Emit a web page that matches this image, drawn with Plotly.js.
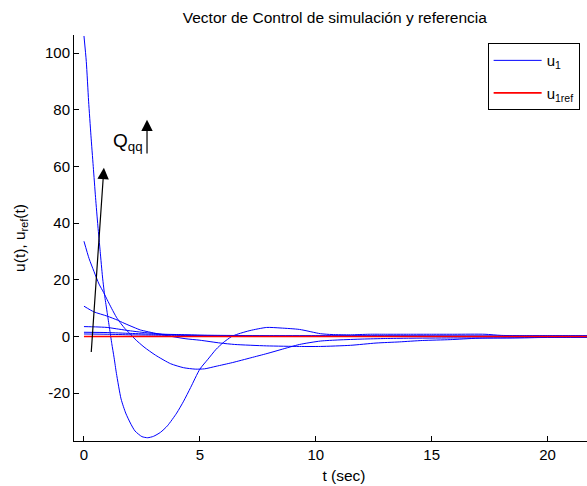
<!DOCTYPE html>
<html>
<head>
<meta charset="utf-8">
<script src="https://cdn.plot.ly/plotly-3.0.1.min.js"></script>
<style>
html, body { margin: 0; padding: 0; overflow: hidden; background: #fff; }
#chart { width: 624px; height: 486px; }
</style>
</head>
<body>
<div id="chart"></div>
<script>
// ---- data ----
var tA = [0, 0.1, 0.2, 0.3, 0.4, 0.5, 0.6, 0.7, 0.8, 0.9, 1.0, 1.1, 1.2, 1.3, 1.4, 1.6, 1.8, 2.0, 2.2, 2.5, 2.75, 3.0, 3.3, 3.6, 4.0, 4.3, 4.6, 5.0, 5.35, 5.7, 6.0, 6.37, 6.65, 7.16, 7.88, 8.5, 9.3, 10.2, 10.7, 11.5, 12.3, 13, 14, 15, 16, 17.3, 18, 19, 20, 21, 22, 23];
var uA = [106, 97, 83, 71, 60, 49, 39, 30, 21, 14, 8.5, 3, -2.5, -7.5, -13, -22, -27, -30.5, -33.3, -35.3, -35.7, -35.2, -33.8, -31.5, -27, -22.8, -18, -11.5, -8, -4.5, -2.2, 0, 0.9, 2.1, 3.2, 3.0, 2.5, 1.0, 0.7, 0.6, 0.8, 0.8, 0.8, 0.8, 0.8, 0.8, 0.4, 0.3, 0.3, 0.3, 0.3, 0.3];

var tB = [0, 0.22, 0.43, 0.65, 0.85, 1.0, 1.2, 1.4, 1.6, 1.8, 2.0, 2.2, 2.59, 3.09, 3.74, 4.3, 4.8, 5.2, 5.7, 6.4, 7.2, 7.9, 8.5, 9.3, 10.2, 11, 12, 13, 14, 15.8, 17.2, 18.5, 20, 23];
var uB = [33.6, 27.5, 23, 18.5, 15.5, 13, 9.8, 6.8, 4.5, 2.5, 0.9, -0.9, -3.7, -6.6, -9.6, -11, -11.5, -11.4, -10.5, -9.2, -7.5, -6, -4.6, -2.8, -1.6, -1.2, -0.9, -0.7, -0.6, -0.5, -0.5, -0.5, -0.3, -0.3];

var tC = [0, 0.43, 1.0, 1.44, 1.73, 2.16, 2.44, 3.16, 3.8, 4.4, 5.0, 5.88, 6.5, 7.88, 9.3, 10.2, 11.5, 12.6, 13.6, 14.6, 15.8, 17, 19, 21, 23];
var uC = [10.7, 8.7, 7.2, 5.8, 4.7, 3.2, 2.3, 1.0, 0, -0.8, -1.3, -2.3, -2.8, -3.3, -3.5, -3.5, -3.1, -2.3, -1.9, -1.4, -1.1, -0.6, -0.4, -0.3, -0.3];

var tD = [0, 0.5, 1.0, 1.5, 2.0, 2.5, 3.0, 3.5, 4.0, 5, 6, 8, 10, 12, 17, 23];
var uD = [3.5, 3.4, 3.2, 2.6, 2.0, 1.5, 1.1, 0.8, 0.7, 0.5, 0.4, 0.3, 0.3, 0.3, 0.2, 0.2];

var tE = [0, 1, 2, 3, 4, 5, 7, 10, 23];
var uE = [1.5, 1.4, 1.1, 0.8, 0.6, 0.4, 0.2, 0.1, 0.1];

var tF = [0, 1, 2, 3, 4, 6, 10, 23];
var uF = [0.9, 0.8, 0.6, 0.5, 0.4, 0.2, 0.1, 0];

var tRef = [0, 23];
var uRef = [0, 0];

// black arrows
var arrow1T = [0.31, 0.86];
var arrow1U = [-6, 59.5];
var arrow2T = [2.72, 2.72];
var arrow2U = [64, 76.5];
var qLabelT = 1.17;
var qLabelU = 68.5;

var xTickVals = [0, 5, 10, 15, 20];
var xTickText = ['0', '5', '10', '15', '20'];
var yTickVals = [-20, 0, 20, 40, 60, 80, 100];
var yTickText = ['-20', '0', '20', '40', '60', '80', '100'];

var seriesNames = ['u<sub>1</sub>', 'u<sub>1ref</sub>'];
var titleText = 'Vector de Control de simulación y referencia';
var xTitle = 't (sec)';
var yTitle = 'u(t), u<sub>ref</sub>(t)';

// ---- build ----
var FONT = 'Arial, "Liberation Sans", sans-serif';
var blue = '#0000ff';
var blueCurves = [[tA, uA], [tB, uB], [tC, uC], [tD, uD], [tE, uE], [tF, uF]];
var traces = [];
blueCurves.forEach(function (c, i) {
  traces.push({
    x: c[0], y: c[1], type: 'scatter', mode: 'lines',
    name: seriesNames[0], legendgroup: 'u1', showlegend: i === 0,
    line: { color: blue, width: 1, shape: 'spline', smoothing: 0.6 },
    hoverinfo: 'skip'
  });
});
traces.push({
  x: tRef, y: uRef, type: 'scatter', mode: 'lines', name: seriesNames[1],
  line: { color: '#ff0000', width: 1.6 }, hoverinfo: 'skip'
});

var layout = {
  width: 624, height: 486,
  margin: { l: 74, r: 10, t: 35, b: 45.3, pad: 0 },
  paper_bgcolor: '#fff', plot_bgcolor: '#fff',
  font: { family: FONT, size: 15, color: '#000' },
  showlegend: true,
  title: {
    text: titleText, font: { family: FONT, size: 15.5, color: '#000' },
    xref: 'paper', x: 0.483, xanchor: 'center',
    yref: 'container', y: 0.964, yanchor: 'middle'
  },
  xaxis: {
    range: [-0.43, 22.866], tickvals: xTickVals, ticktext: xTickText,
    ticks: 'inside', ticklen: 5, tickwidth: 1, tickcolor: '#000',
    showline: true, linecolor: '#000', linewidth: 1, mirror: false,
    showgrid: false, zeroline: false,
    tickfont: { family: FONT, size: 15, color: '#000' },
    title: { text: xTitle, font: { family: FONT, size: 15.5, color: '#000' }, standoff: 8 }
  },
  yaxis: {
    range: [-36.85, 106.35], tickvals: yTickVals, ticktext: yTickText,
    ticks: 'inside', ticklen: 5, tickwidth: 1, tickcolor: '#000',
    showline: true, linecolor: '#000', linewidth: 1, mirror: false,
    showgrid: false, zeroline: false,
    tickfont: { family: FONT, size: 15, color: '#000' },
    title: { text: yTitle, font: { family: FONT, size: 15.5, color: '#000' }, standoff: 15 }
  },
  legend: {
    x: 0.766, y: 0.98, xanchor: 'left', yanchor: 'top',
    bgcolor: '#fff', bordercolor: '#000', borderwidth: 1,
    font: { family: FONT, size: 15, color: '#000' },
    itemwidth: 48
  },
  annotations: [
    {
      x: arrow1T[1], y: arrow1U[1], ax: arrow1T[0], ay: arrow1U[0],
      xref: 'x', yref: 'y', axref: 'x', ayref: 'y',
      showarrow: true, arrowhead: 2, arrowsize: 1.9, arrowwidth: 1.2, arrowcolor: '#000',
      text: '', standoff: 0, startstandoff: 0
    },
    {
      x: arrow2T[1], y: arrow2U[1], ax: arrow2T[0], ay: arrow2U[0],
      xref: 'x', yref: 'y', axref: 'x', ayref: 'y',
      showarrow: true, arrowhead: 2, arrowsize: 1.9, arrowwidth: 1.2, arrowcolor: '#000',
      text: '', standoff: 0, startstandoff: 0
    },
    {
      x: qLabelT, y: qLabelU, xref: 'x', yref: 'y', xanchor: 'left', yanchor: 'middle',
      showarrow: false, text: 'Q<sub>qq</sub>',
      font: { family: FONT, size: 19, color: '#000' }
    }
  ]
};

Plotly.newPlot('chart', traces, layout, { displayModeBar: false, staticPlot: true });
</script>
</body>
</html>
